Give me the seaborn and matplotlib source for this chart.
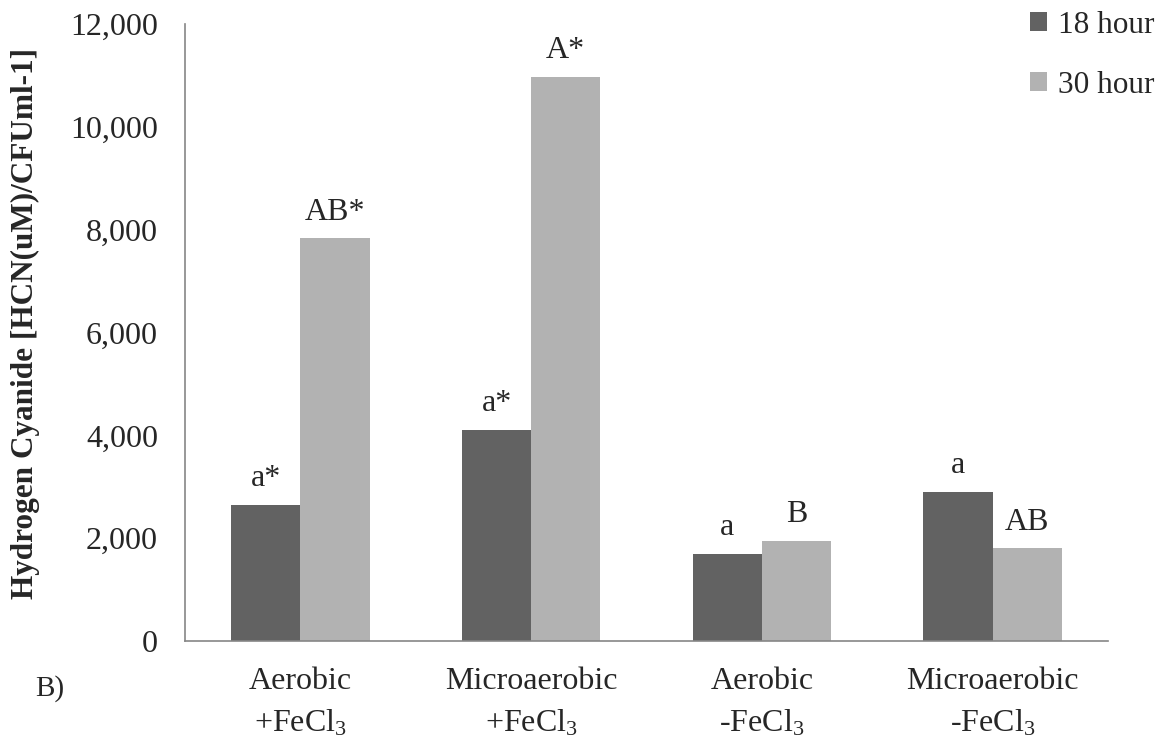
import matplotlib
matplotlib.use("Agg")
import matplotlib.pyplot as plt
import seaborn as sns
import pandas as pd
from matplotlib.ticker import FuncFormatter, FixedLocator

# Data
categories = ["Aerobic\n+FeCl$_3$", "Microaerobic\n+FeCl$_3$", "Aerobic\n-FeCl$_3$", "Microaerobic\n-FeCl$_3$"]
series_names = ["18 hour", "30 hour"]
hcn_18h = [2650, 4100, 1700, 2900]
hcn_30h = [7830, 10970, 1940, 1800]
labels_18h = ["a*", "a*", "a", "a"]
labels_30h = ["AB*", "A*", "B", "AB"]

sns.set_style("white")
plt.rcParams["font.family"] = ["Liberation Serif", "DejaVu Serif"]
plt.rcParams["mathtext.fontset"] = "custom"
plt.rcParams["mathtext.rm"] = "Liberation Serif"
plt.rcParams["mathtext.it"] = "Liberation Serif:italic"
plt.rcParams["mathtext.bf"] = "Liberation Serif:bold"

df = pd.DataFrame({
    "category": categories * 2,
    "series": [series_names[0]] * 4 + [series_names[1]] * 4,
    "value": hcn_18h + hcn_30h,
})

fig = plt.figure(figsize=(11.66, 7.42), dpi=100)
ax = fig.add_axes([0.1587, 0.1361, 0.7916, 0.8316])

palette = {"18 hour": "#626262", "30 hour": "#b2b2b2"}
sns.barplot(data=df, x="category", y="value", hue="series", palette=palette,
            width=0.6, gap=0, saturation=1, linewidth=0, ax=ax, legend=True)

ax.set_ylim(0, 12000)
ax.set_xlim(-0.5, 3.5)
ax.yaxis.set_major_locator(FixedLocator(range(0, 12001, 2000)))
ax.yaxis.set_major_formatter(FuncFormatter(lambda v, p: f"{int(v):,}"))

# Category boundary ticks, labels on centered minor ticks
ax.set_xticks([-0.5, 0.5, 1.5, 2.5, 3.5])
ax.set_xticklabels([])
ax.set_xticks(range(4), minor=True)
ax.set_xticklabels(categories, minor=True, fontsize=23, linespacing=1.5)
ax.tick_params(axis="x", which="major", length=8, width=1.2, color="#868686", direction="out")
ax.tick_params(axis="x", which="minor", length=0, pad=19)
ax.tick_params(axis="y", length=8, width=1.2, color="#868686", direction="out", labelsize=23, pad=11.5)

for side in ["top", "right"]:
    ax.spines[side].set_visible(False)
for side in ["left", "bottom"]:
    ax.spines[side].set_color("#868686")
    ax.spines[side].set_linewidth(1.2)

ax.set_xlabel("")
ax.set_ylabel("Hydrogen Cyanide [HCN(uM)/CFUml-1]", fontsize=22.5, fontweight="bold")
ax.yaxis.set_label_coords(-0.157, 0.514)

# Letter annotations above each bar
for container, vals, labs in zip(ax.containers, [hcn_18h, hcn_30h], [labels_18h, labels_30h]):
    for bar, v, lab in zip(container, vals, labs):
        ax.text(bar.get_x() + bar.get_width() / 2, v + 365, lab,
                ha="center", va="baseline", fontsize=23)

# Legend
handles, lbls = ax.get_legend_handles_labels()
ax.legend(handles, lbls, loc="upper left", bbox_to_anchor=(0.902, 1.042),
          frameon=False, fontsize=22.5, handlelength=0.55, handleheight=0.55,
          handletextpad=0.35, labelspacing=1.0, borderaxespad=0)

fig.text(0.03, 0.072, "B)", fontsize=21, ha="left", va="center")

fig.savefig("out.png", dpi=100)
